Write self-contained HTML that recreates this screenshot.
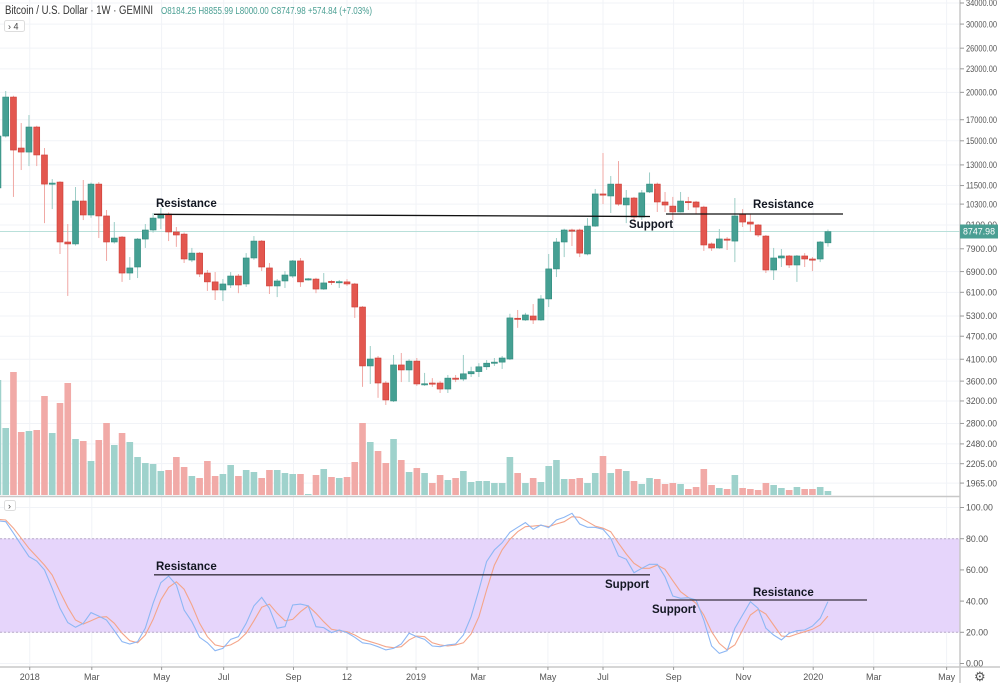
<!DOCTYPE html>
<html><head><meta charset="utf-8"><style>
html,body{margin:0;padding:0;background:#fff;width:1000px;height:683px;overflow:hidden}
svg{display:block;font-family:"Liberation Sans",sans-serif}
</style></head><body>
<svg id="chart" width="1000" height="683" viewBox="0 0 1000 683" xmlns="http://www.w3.org/2000/svg">
<defs><clipPath id="plotclip"><rect x="0" y="0" width="960" height="667"/></clipPath></defs>
<g id="grid"></g>
<rect x="0" y="538.7" width="960" height="93.6" fill="#e6d5fb"/>
<line x1="0" x2="960" y1="538.7" y2="538.7" stroke="#b8a9c9" stroke-dasharray="2,2"/>
<line x1="0" x2="960" y1="632.3" y2="632.3" stroke="#b8a9c9" stroke-dasharray="2,2"/>
<g id="vol" clip-path="url(#plotclip)"></g>
<line x1="0" x2="960" y1="231.5" y2="231.5" stroke="#b9e0da" stroke-width="1"/>
<g id="candles" clip-path="url(#plotclip)"></g>
<g id="stoch" clip-path="url(#plotclip)"></g>
<line x1="0" x2="960" y1="496.5" y2="496.5" stroke="#c8c8c8" stroke-width="1.5"/>
<line x1="0" x2="1000" y1="667" y2="667" stroke="#c8c8c8" stroke-width="1.5"/>
<line x1="960" x2="960" y1="0" y2="683" stroke="#c8c8c8" stroke-width="1.5"/>
<g id="yaxis"></g>
<g id="saxis"></g>
<g id="xaxis"></g>
<g font-weight="bold" font-size="11.5" fill="#131722">
<line x1="154" y1="214.3" x2="650" y2="216.5" stroke="#111" stroke-width="1.3"/>
<text x="156" y="207">Resistance</text>
<text x="629" y="228">Support</text>
<line x1="666" y1="214" x2="843" y2="214" stroke="#111" stroke-width="1.3"/>
<text x="753" y="208">Resistance</text>
<line x1="154" y1="574.8" x2="650" y2="574.8" stroke="#3a3340" stroke-width="1.3"/>
<text x="156" y="570">Resistance</text>
<text x="605" y="588">Support</text>
<line x1="666" y1="600" x2="867" y2="600" stroke="#3a3340" stroke-width="1.3"/>
<text x="652" y="613">Support</text>
<text x="753" y="596">Resistance</text>
</g>
<rect x="960" y="224.5" width="38" height="14" fill="#4a9f93"/>
<text x="963" y="234.5" font-size="9" fill="#fff" textLength="32" lengthAdjust="spacingAndGlyphs">8747.98</text>
<text x="5" y="14" font-size="11.5" fill="#333" textLength="148" lengthAdjust="spacingAndGlyphs">Bitcoin / U.S. Dollar · 1W · GEMINI</text>
<text x="161" y="14" font-size="10" fill="#4a9f93" textLength="211" lengthAdjust="spacingAndGlyphs">O8184.25 H8855.99 L8000.00 C8747.98 +574.84 (+7.03%)</text>
<rect x="4.5" y="20.5" width="20" height="11" rx="2" fill="#fff" stroke="#ddd"/>
<text x="8" y="29.5" font-size="9" fill="#444">› 4</text>
<rect x="4.5" y="500.5" width="11" height="10" rx="2" fill="#fff" stroke="#ddd"/>
<text x="8" y="509" font-size="9" fill="#444">›</text>
<text x="974" y="681" font-size="13" fill="#555">⚙</text>
</svg>
<script>
const opens=[11340,15430,19450,14370,14030,16280,13790,11600,11740,8225,8130,10490,9655,11600,9600,8225,8470,6840,7090,8370,8832,9480,9710,8730,8620,7390,7700,6840,6490,6185,6372,6720,6410,7480,8270,7050,6335,6525,6720,7350,6580,6600,6220,6510,6470,6490,6410,5590,3940,4130,3560,3200,3963,3847,4055,3530,3560,3560,3435,3665,3645,3760,3810,3920,4005,4030,4105,5230,5176,5300,5176,5865,7010,8225,8832,8832,7660,9040,10940,10810,11600,10250,10680,9540,11070,11600,10430,10180,9830,10460,10430,10120,8130,7937,8370,8270,9710,9260,9100,8520,6965,7480,7570,7175,7570,7435,7435,8184.25];
const highs=[15990,20160,19600,16670,17480,16400,14370,11950,11800,9150,11400,11885,11700,11740,9946,9260,8520,7520,8420,9150,9770,10060,9800,8990,8700,7940,7750,6965,6880,6600,6880,6800,7700,8520,8320,7260,6600,6920,7390,7480,6640,6650,6840,6564,6564,6600,6450,5620,4435,4180,3600,4205,4255,4100,4130,3780,3665,3600,3734,3734,4205,3920,4005,4080,4130,4180,5370,5493,5400,5690,6000,7660,8420,8900,8900,8900,9480,11270,13950,12170,13300,11200,10750,11200,12430,11700,11070,10750,11070,10750,10500,10200,8200,8885,8470,10680,10000,9710,9150,8574,7940,7890,7614,7614,7700,7520,8270,8855.99];
const lows=[11200,15300,10750,12610,12910,12910,9200,10000,7660,5970,8050,9370,9500,8420,7350,8150,6490,6564,6640,7940,8700,8880,8270,7990,7260,7300,6680,6150,5829,5790,6260,6070,6300,7400,6920,6040,5930,6260,6650,6300,6540,6070,6190,6372,6260,6335,5240,3480,3540,3260,3125,3180,3580,3580,3500,3500,3480,3355,3355,3580,3600,3690,3690,3847,3940,3870,4080,4940,5150,5055,5150,5590,6680,7520,8030,7520,7600,9000,10300,9770,10200,9200,9260,9372,11000,9830,9830,9372,9800,9946,9710,7800,7800,7900,7843,7300,8990,8730,8470,6840,6564,7090,7050,6490,7090,6920,7300,8000];
const closes=[15430,19450,14200,14030,16280,13790,11600,11670,8225,8130,10490,9655,11600,9600,8225,8420,6840,7050,8370,8832,9480,9710,8730,8574,7435,7700,6800,6490,6185,6410,6720,6372,7480,8270,7090,6335,6525,6761,7350,6490,6610,6220,6450,6470,6500,6410,5590,3940,4105,3560,3219,3963,3847,4055,3540,3545,3540,3435,3665,3645,3760,3810,3920,4005,4030,4130,5240,5200,5332,5176,5865,7010,8225,8832,8800,7700,9040,10940,10870,11600,10300,10680,9540,11010,11600,10430,10245,9830,10490,10400,10120,8080,7937,8375,8323,9600,9260,9150,8574,6965,7480,7570,7175,7570,7435,7400,8225,8747.98];
const volumes=[115,67,123,63,64,65,99,62,92,112,56,54,34,55,72,50,62,53,38,32,31,24,25,38,28,19,17,34,19,21,30,19,25,23,17,25,25,22,21,21,1,20,26,18,17,18,33,72,53,44,32,56,35,23,27,22,12,20,15,17,24,13,14,14,12,12,38,22,12,17,13,29,35,16,16,17,12,22,39,22,26,24,14,11,17,16,11,12,11,6,8,26,10,7,6,20,7,6,5,12,10,7,5,8,6,6,8,4];
const stochK=[91.5,90.9,83.5,76,68.5,65.7,60,48.2,35.4,26.2,23.2,25.8,32.6,30.4,27.9,21,14,12.5,14,22.6,38.6,51.8,56,50.3,34.3,26.8,16.8,13.3,8.2,9.7,15.5,17.2,25.8,36.9,42.4,35.4,22.6,23.6,37.5,38.1,36.9,23.6,23,19.8,21.5,19.8,16.8,13.3,12.5,10.8,8.7,9.7,12.5,19.4,17.2,15.5,11.2,10.8,11.9,12.5,18.3,30,47.1,65.3,72.8,77.4,84.1,87.3,90.3,86,88.8,87.1,92,93.7,96.3,89.4,87.3,87.3,86,80.3,68.9,66.8,58.2,61,63.6,63.6,55.6,43.3,41.8,42.2,40.7,27.9,11.2,6.5,8.2,22.6,31.1,39.6,35.4,22.6,18.3,15.1,19.4,21,21.5,24,29,39.6];
const stochD=[92.4,92,86.7,80.3,73.8,68.5,63.1,56.7,46,36,27.9,25.3,27.4,29.6,30,25.8,19.4,14.6,13.3,18.3,28.3,40.7,48.8,52.4,47.6,37.5,25.8,17.2,11.9,10.8,11.9,14.6,19.4,27.4,36,38.1,32.2,27.4,28.3,33.2,36.9,32.2,26.8,21.9,21,20.4,18.3,15.5,14,12.5,10.8,10.1,10.8,15.1,17.6,17.2,13.3,11.9,11.2,11.9,13.3,18.9,30,47.1,63.1,72.8,79.6,84.5,87.7,88.1,88.6,87.7,89.4,90.9,94.1,93.7,90.9,88.1,86.7,84.5,77.1,70.2,64.2,61,61,63.1,60.4,53.1,46,42.4,38.6,31.1,20.4,12.9,8.7,11.9,21.5,31.1,34.7,31.7,24.7,17.6,17.2,18.9,20.4,21.9,24.7,30.4];
const priceTicks=[34000,30000,26000,23000,20000,17000,15000,13000,11500,10300,9100,7900,6900,6100,5300,4700,4100,3600,3200,2800,2480,2205,1965];
const stochTicks=[100,80,60,40,20,0];
const timeLabels=["2018","Mar","May","Jul","Sep","12","2019","Mar","May","Jul","Sep","Nov","2020","Mar","May"];
const timeIndex=[4.1,12.1,21.1,29.1,38.1,45.0,53.9,61.9,70.9,78.0,87.1,96.1,105.1,112.9,122.3];

const NS="http://www.w3.org/2000/svg";
function xOf(i){return 5.7+7.757*(i-1);}
function yPrice(p){return 3+(Math.log(34000)-Math.log(p))*168.4;}
function yVol(v){return 495-v;}
function yStoch(v){return 632.3-(v-20)*1.56;}
function mk(tag,attrs,parent){const e=document.createElementNS(NS,tag);for(const k in attrs)e.setAttribute(k,attrs[k]);parent.appendChild(e);return e;}

const grid=document.getElementById('grid');
priceTicks.forEach(p=>{const y=yPrice(p);const l=mk('line',{x1:0,x2:960,y1:y,y2:y,stroke:'#f1f3f7'},grid);

});
stochTicks.forEach(v=>{const y=yStoch(v);const l=mk('line',{x1:0,x2:960,y1:y,y2:y,stroke:'#f1f3f7'},grid);

});
timeIndex.forEach(i=>{const x=xOf(i);const l=mk('line',{x1:x,x2:x,y1:0,y2:667,stroke:'#f1f3f7'},grid);

});

const vol=document.getElementById('vol');
volumes.forEach((v,i)=>{const up=closes[i]>=opens[i];const x=xOf(i);
const r=mk('rect',{x:x-3.3,y:yVol(v),width:6.6,height:v,fill:up?'#9fd2cc':'#f1aaa7'},vol);

});

const cg=document.getElementById('candles');
opens.forEach((o,i)=>{const c=closes[i],up=c>=o,x=xOf(i);
const col=up?'#45a093':'#e3574f',wcol=up?'#9ccdc6':'#f0a8a4';
const w=mk('line',{x1:x,x2:x,y1:yPrice(highs[i]),y2:yPrice(lows[i]),stroke:wcol,'stroke-width':1},cg);


const yt=Math.min(yPrice(o),yPrice(c)),yb=Math.max(yPrice(o),yPrice(c));
const b=mk('rect',{x:x-3,y:yt,width:6,height:Math.max(1.2,yb-yt),fill:col,stroke:up?'#2f8a7d':'#cc3d36','stroke-width':0.6},cg);

});

const sg=document.getElementById('stoch');
function poly(arr,color,name){const pts=arr.map((v,i)=>xOf(i).toFixed(1)+','+yStoch(v).toFixed(1)).join(' ');
const p=mk('polyline',{points:pts,fill:'none',stroke:color,'stroke-width':1.1},sg);

}
poly(stochD,'#f4a58a','stoch-d-line');
poly(stochK,'#8db7f4','stoch-k-line');

const ya=document.getElementById('yaxis');
priceTicks.forEach(p=>{const y=yPrice(p);
mk('line',{x1:960,x2:964,y1:y,y2:y,stroke:'#999'},ya);
const t=mk('text',{x:966,y:y+3.2,'font-size':8.8,fill:'#555',textLength:31,lengthAdjust:'spacingAndGlyphs'},ya);t.textContent=p.toFixed(2);

});
const sa=document.getElementById('saxis');
stochTicks.forEach(v=>{const y=yStoch(v);
mk('line',{x1:960,x2:964,y1:y,y2:y,stroke:'#999'},sa);
const t=mk('text',{x:966,y:y+3.2,'font-size':8.8,fill:'#555'},sa);t.textContent=v.toFixed(2);

});
const xa=document.getElementById('xaxis');
timeLabels.forEach((lab,k)=>{const x=xOf(timeIndex[k]);
mk('line',{x1:x,x2:x,y1:667,y2:670,stroke:'#999'},xa);
const t=mk('text',{x:x,y:680,'font-size':9,fill:'#555','text-anchor':'middle'},xa);t.textContent=lab;

});
</script>
</body></html>
